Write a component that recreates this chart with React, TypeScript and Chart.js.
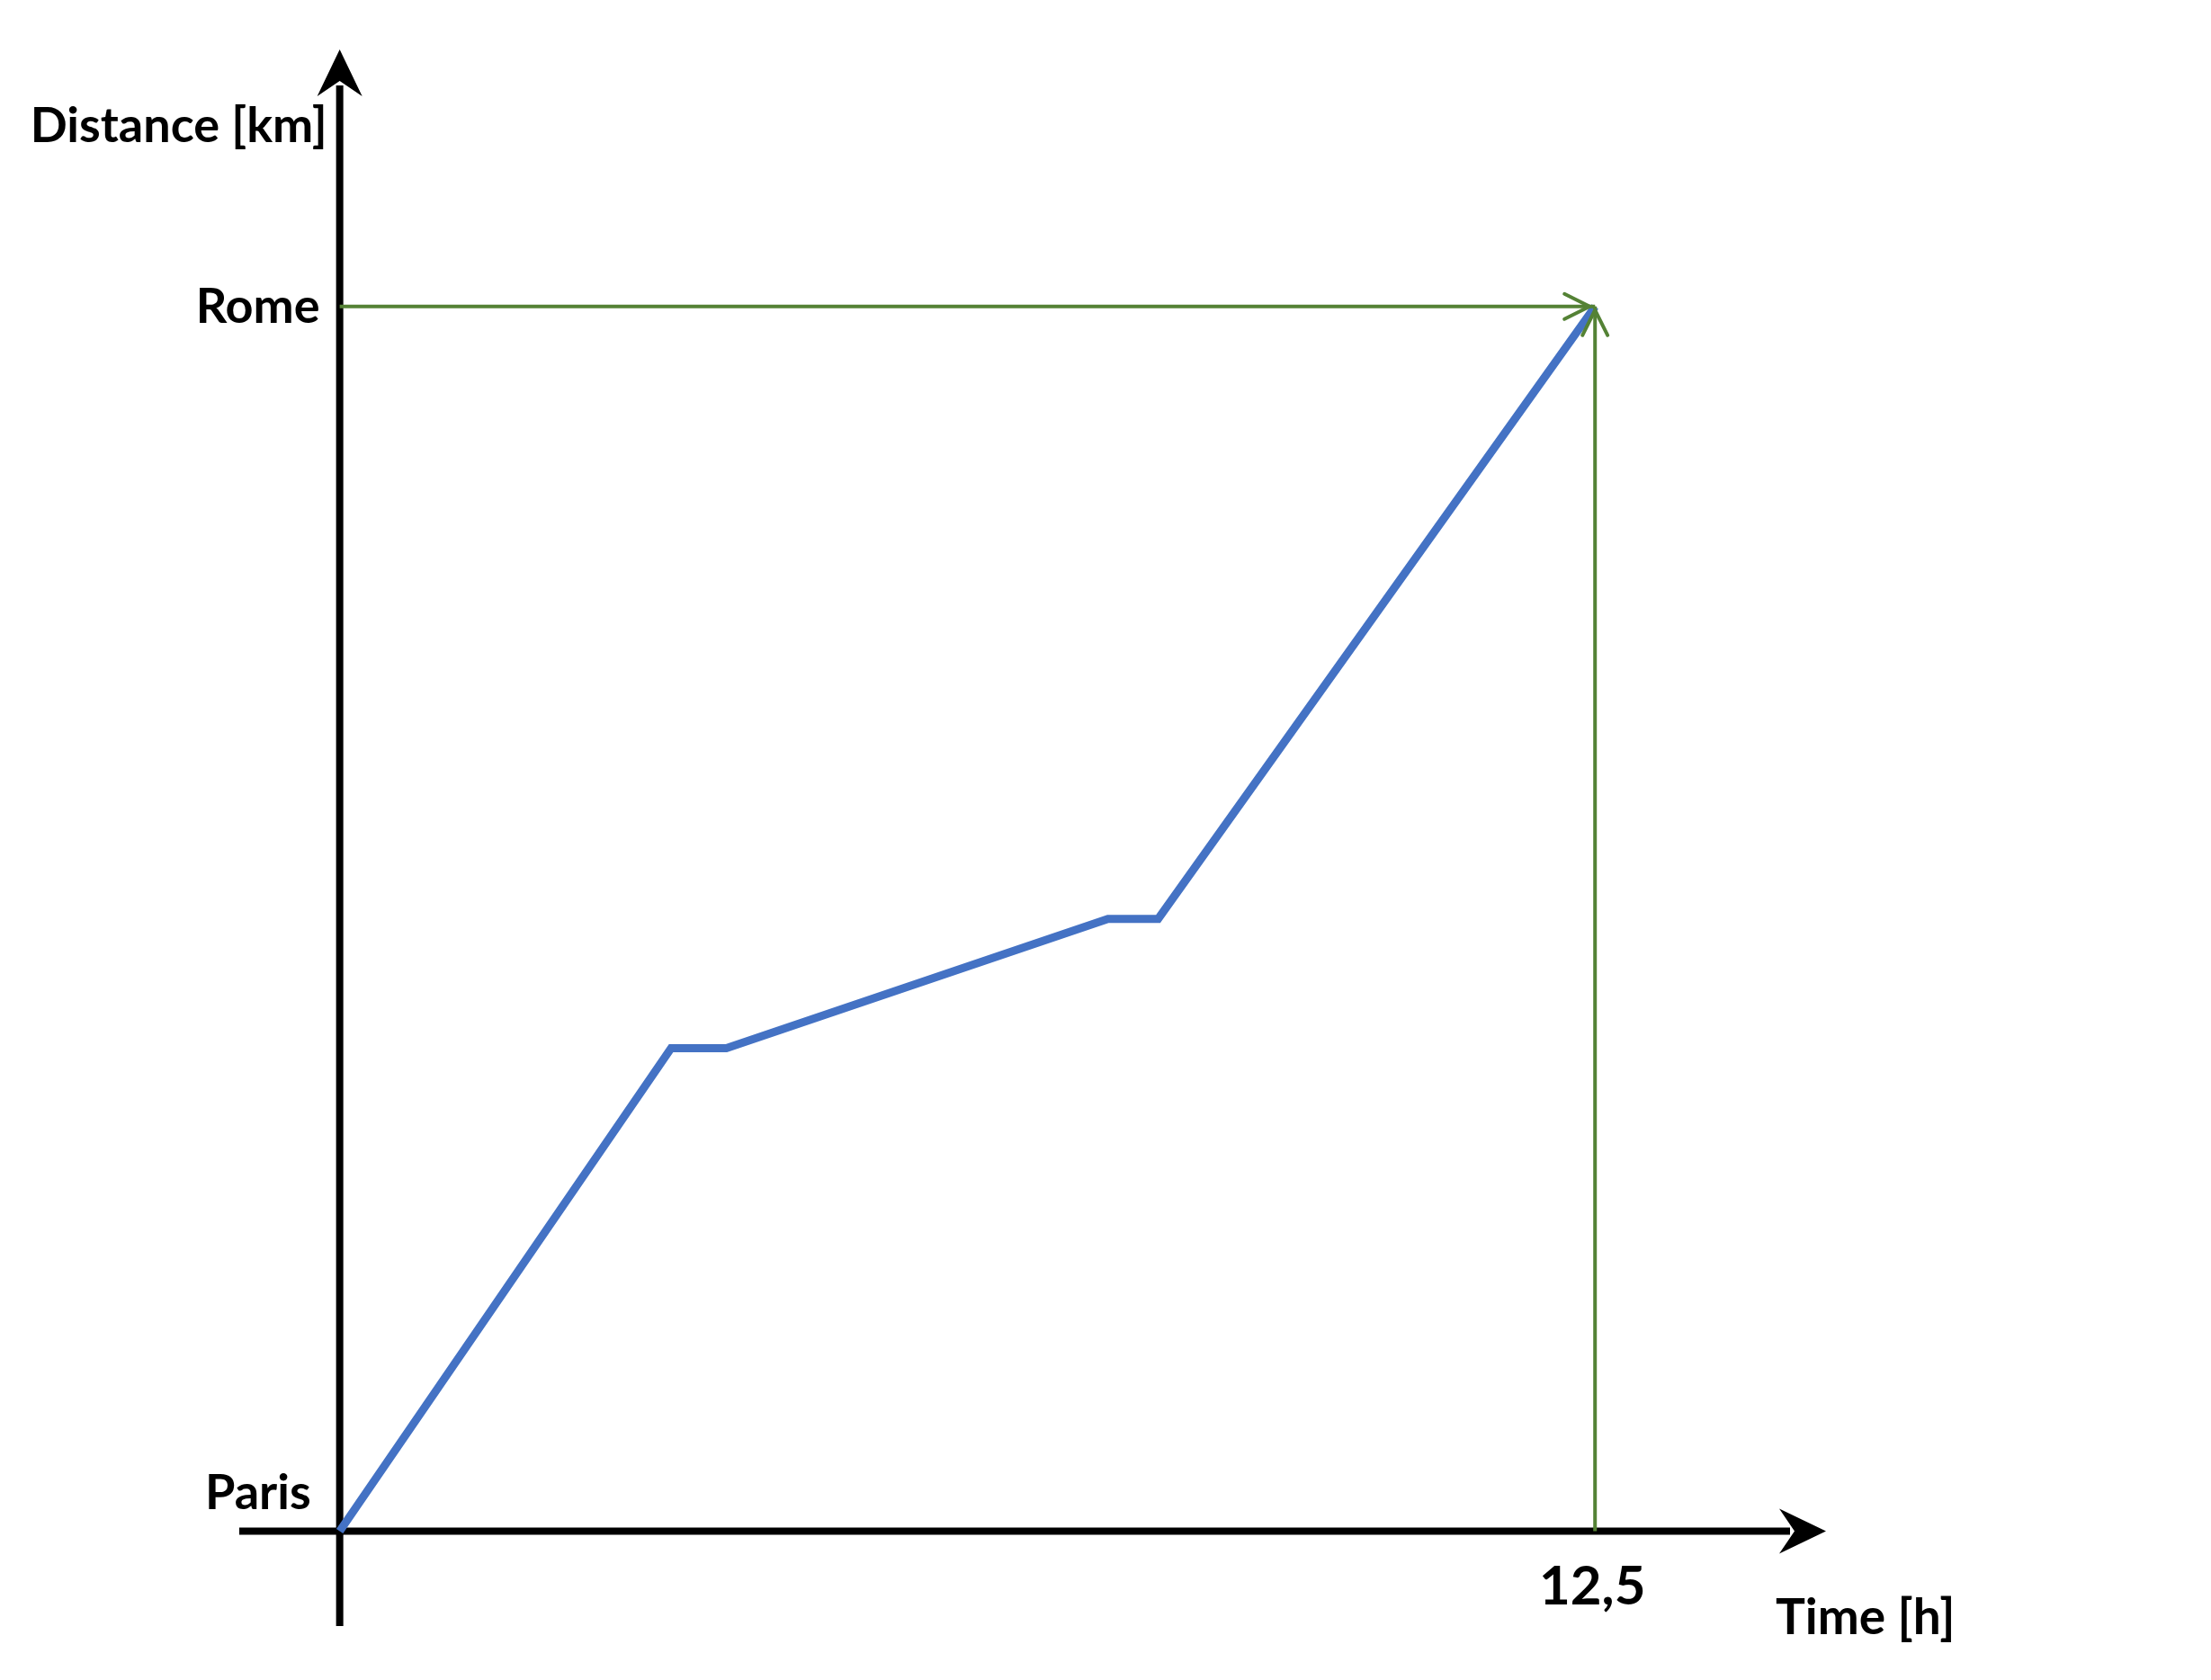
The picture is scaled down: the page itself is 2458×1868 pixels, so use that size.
import React, { useEffect, useRef } from 'react';
import Chart from 'chart.js/auto';

// Journey Paris -> Rome
const TIME_H = [0, 3.3, 3.85, 7.65, 8.15, 12.5];
const DISTANCE_KM = [0, 560, 560, 710, 710, 1420];

// Places marked on the distance axis
const PLACE_NAMES = ['Paris', 'Rome'];
const PLACE_KM = [0, 1420];

// Arrival time marked on the time axis
const ARRIVAL_H = 12.5;
const ARRIVAL_LABEL = '12,5';

const X_TITLE = 'Time [h]';
const Y_TITLE = 'Distance [km]';

// How far the drawn axes reach (arrow tips)
const X_RANGE = [-1, 14.8];
const Y_RANGE = [-110, 1718];

const BLUE = '#4472C4';
const GREEN = '#548235';
const FONT = 'Lato, "Open Sans", sans-serif';

// filled "stealth" arrow head pointing along (dx, dy)
const solidHead = (ctx: CanvasRenderingContext2D, tx: number, ty: number, dx: number, dy: number) => {
  const len = 52, half = 25, notch = 35;
  const px = -dy, py = dx;
  ctx.beginPath();
  ctx.moveTo(tx, ty);
  ctx.lineTo(tx - dx * len + px * half, ty - dy * len + py * half);
  ctx.lineTo(tx - dx * notch, ty - dy * notch);
  ctx.lineTo(tx - dx * len - px * half, ty - dy * len - py * half);
  ctx.closePath();
  ctx.fill();
};

// open arrow head (two strokes)
const openHead = (ctx: CanvasRenderingContext2D, tx: number, ty: number, dx: number, dy: number) => {
  const len = 28, half = 14;
  const px = -dy, py = dx;
  ctx.beginPath();
  ctx.moveTo(tx - dx * len + px * half, ty - dy * len + py * half);
  ctx.lineTo(tx, ty);
  ctx.lineTo(tx - dx * len - px * half, ty - dy * len - py * half);
  ctx.stroke();
};

const sketchAxes = {
  id: 'sketchAxes',
  beforeDatasetsDraw(chart: any) {
    const { ctx, scales: { x, y } } = chart;
    const x0 = x.getPixelForValue(0);
    const y0 = y.getPixelForValue(0);
    const xl = x.getPixelForValue(X_RANGE[0]);
    const xr = x.getPixelForValue(X_RANGE[1]);
    const yb = y.getPixelForValue(Y_RANGE[0]);
    const yt = y.getPixelForValue(Y_RANGE[1]);

    ctx.save();
    ctx.strokeStyle = '#000';
    ctx.fillStyle = '#000';
    ctx.lineWidth = 8;
    ctx.lineCap = 'butt';
    ctx.beginPath();
    ctx.moveTo(xl, y0);
    ctx.lineTo(xr - 40, y0);
    ctx.moveTo(x0, yb);
    ctx.lineTo(x0, yt + 40);
    ctx.stroke();
    solidHead(ctx, xr, y0, 1, 0);
    solidHead(ctx, x0, yt, 0, -1);
    ctx.restore();
  },
  afterDatasetsDraw(chart: any) {
    const { ctx, scales: { x, y } } = chart;
    const x0 = x.getPixelForValue(0);
    const y0 = y.getPixelForValue(0);
    const xa = x.getPixelForValue(ARRIVAL_H);
    const yRome = y.getPixelForValue(PLACE_KM[1]);
    const xr = x.getPixelForValue(X_RANGE[1]);
    const yt = y.getPixelForValue(Y_RANGE[1]);

    ctx.save();
    // green arrow heads at the arrival point
    ctx.strokeStyle = GREEN;
    ctx.lineWidth = 4;
    ctx.lineCap = 'round';
    openHead(ctx, xa - 6, yRome, 1, 0);
    openHead(ctx, xa, yRome + 4, 0, -1);

    ctx.fillStyle = '#000';
    ctx.textBaseline = 'alphabetic';
    ctx.font = `bold 54px ${FONT}`;

    // axis titles
    ctx.textAlign = 'right';
    ctx.fillText(Y_TITLE, x0 - 14, yt + 103);
    ctx.textAlign = 'left';
    ctx.font = `bold 55px ${FONT}`;
    ctx.fillText(X_TITLE, xr - 56, y0 + 114);

    // places on the distance axis
    ctx.font = `bold 54px ${FONT}`;
    ctx.textAlign = 'right';
    PLACE_NAMES.forEach((name, i) => {
      const py = y.getPixelForValue(PLACE_KM[i]);
      if (i === 0) ctx.fillText(name, x0 - 32, py - 25);
      else ctx.fillText(name, x0 - 22, py + 18);
    });

    // arrival time
    ctx.font = `bold 60px ${FONT}`;
    ctx.textAlign = 'center';
    ctx.fillText(ARRIVAL_LABEL, xa - 3, y0 + 81);
    ctx.restore();
  },
};

const App: React.FC = () => {
  const canvasRef = useRef<HTMLCanvasElement | null>(null);

  useEffect(() => {
    document.body.style.margin = '0';
    document.body.style.overflow = 'hidden';
    if (!canvasRef.current) return;

    const journey = TIME_H.map((t, i) => ({ x: t, y: DISTANCE_KM[i] }));
    const romeLine = [
      { x: 0, y: PLACE_KM[1] },
      { x: ARRIVAL_H, y: PLACE_KM[1] },
    ];
    const arrivalLine = [
      { x: ARRIVAL_H, y: 0 },
      { x: ARRIVAL_H, y: PLACE_KM[1] },
    ];

    const chart = new Chart(canvasRef.current, {
      type: 'scatter',
      data: {
        datasets: [
          {
            label: 'Rome',
            data: romeLine,
            showLine: true,
            borderColor: GREEN,
            borderWidth: 4,
            pointRadius: 0,
          },
          {
            label: 'Arrival',
            data: arrivalLine,
            showLine: true,
            borderColor: GREEN,
            borderWidth: 4,
            pointRadius: 0,
          },
          {
            label: 'Journey',
            data: journey,
            showLine: true,
            borderColor: BLUE,
            borderWidth: 9,
            borderJoinStyle: 'miter',
            borderCapStyle: 'butt',
            pointRadius: 0,
          },
        ],
      },
      options: {
        animation: false,
        responsive: true,
        maintainAspectRatio: false,
        clip: false,
        layout: {
          padding: { left: 266, right: 428, top: 55, bottom: 60 },
        },
        scales: {
          x: { type: 'linear', display: false, min: X_RANGE[0], max: X_RANGE[1] },
          y: { type: 'linear', display: false, min: Y_RANGE[0], max: Y_RANGE[1] },
        },
        plugins: {
          legend: { display: false },
          tooltip: { enabled: false },
        },
      },
      plugins: [sketchAxes],
    });

    return () => {
      chart.destroy();
    };
  }, []);

  return (
    <div style={{ position: 'relative', width: '2458px', height: '1868px', background: '#fff' }}>
      <canvas ref={canvasRef}></canvas>
    </div>
  );
};

export default App;
